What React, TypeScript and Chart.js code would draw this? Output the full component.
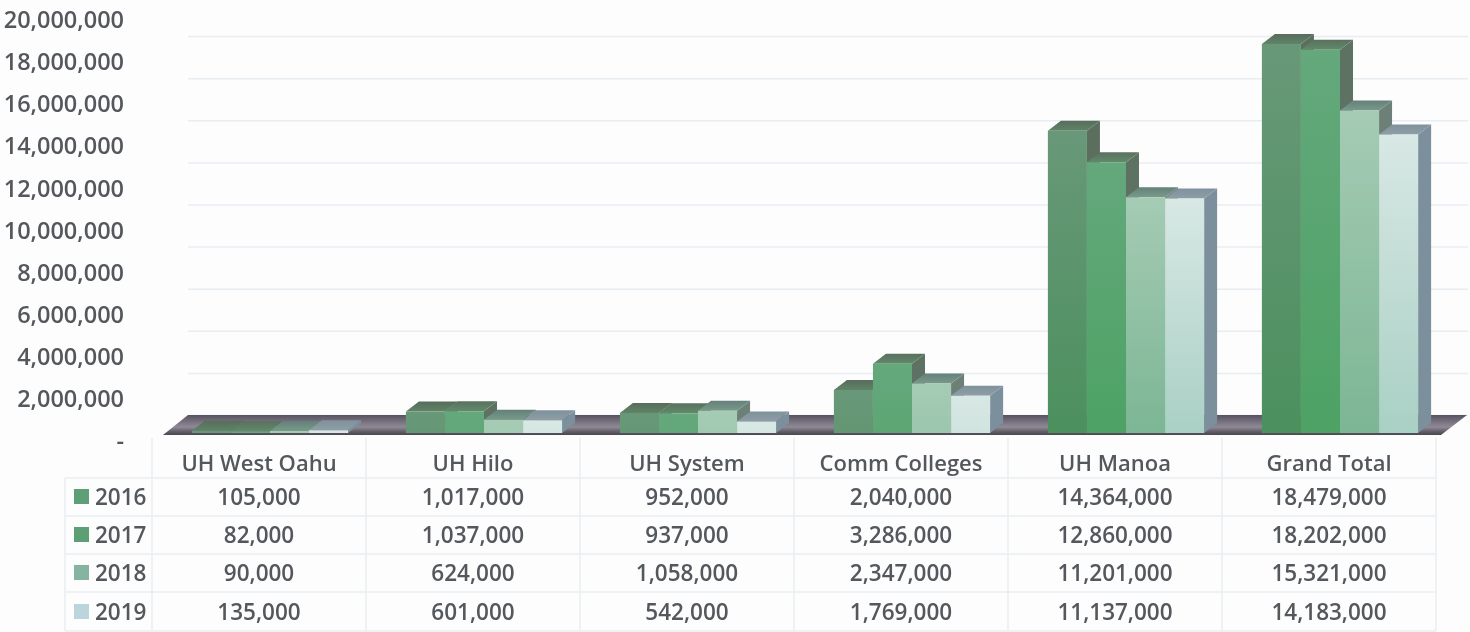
import React, { useEffect, useRef } from "react";
import { Chart, registerables } from "chart.js";

Chart.register(...registerables);

const categories = ["UH West Oahu", "UH Hilo", "UH System", "Comm Colleges", "UH Manoa", "Grand Total"];
const years = ["2016", "2017", "2018", "2019"];
const values2016 = [105000, 1017000, 952000, 2040000, 14364000, 18479000];
const values2017 = [82000, 1037000, 937000, 3286000, 12860000, 18202000];
const values2018 = [90000, 624000, 1058000, 2347000, 11201000, 15321000];
const values2019 = [135000, 601000, 542000, 1769000, 11137000, 14183000];
const seriesValues = [values2016, values2017, values2018, values2019];

const frontTop = [[104, 152, 120], [100, 168, 124], [165, 203, 180], [216, 232, 228]];
const frontBottom = [[76, 144, 94], [77, 162, 100], [124, 182, 148], [169, 208, 196]];
const sideColor = ["#5c6f5f", "#5d7262", "#6c8078", "#7b8f9c"];
const topBack = ["#586c5b", "#5a705e", "#66807a", "#7f919c"];
const topFront = ["#5f8467", "#618a6a", "#779a8a", "#8d9ea6"];
const swatchColor = ["#5f9f78", "#5c9f74", "#85b5a0", "#bcd4dc"];
const rowCenters = [497, 535, 573, 612];
const rowLines = [478, 516, 554, 592, 631];

const FONT = '"Open Sans", sans-serif';
const TEXT = "#54585c";
const DX = 13;
const DY = 10;
const FLOOR_DX = 25;
const FLOOR_DY = 18;
const fmt = (v: number) => v.toLocaleString("en-US");
const rgb = (c: number[]) => `rgb(${c.map(Math.round).join(",")})`;

const scene3d = {
  id: "scene3d",
  beforeDatasetsDraw(chart: any) {
    const { ctx, chartArea, scales } = chart;
    const y0 = scales.y.getPixelForValue(0);
    ctx.save();
    // back wall lines
    ctx.strokeStyle = "#e8edf2";
    ctx.lineWidth = 1.5;
    scales.y.ticks.forEach((t: any) => {
      const y = scales.y.getPixelForValue(t.value) - FLOOR_DY + 0.5;
      ctx.beginPath();
      ctx.moveTo(chartArea.left + FLOOR_DX, y);
      ctx.lineTo(1468, y);
      ctx.stroke();
    });
    // floor
    const g = ctx.createLinearGradient(0, y0 - FLOOR_DY, 0, y0 + 2);
    g.addColorStop(0, "#57525f");
    g.addColorStop(0.6, "#8f8a96");
    g.addColorStop(0.85, "#5e5a64");
    g.addColorStop(1, "#4a4752");
    ctx.fillStyle = g;
    ctx.beginPath();
    ctx.moveTo(chartArea.left, y0 + 2);
    ctx.lineTo(chartArea.left + FLOOR_DX, y0 - FLOOR_DY);
    ctx.lineTo(chartArea.right + 20, y0 - FLOOR_DY);
    ctx.lineTo(chartArea.right - 6, y0 + 2);
    ctx.closePath();
    ctx.fill();
    // side and top faces, left to right; the fronts are painted by the library afterwards
    chart.getSortedVisibleDatasetMetas().forEach((meta: any) => {
      const i = meta.index;
      meta.data.forEach((bar: any) => {
        const l = bar.x - bar.width / 2;
        const r = bar.x + bar.width / 2;
        ctx.fillStyle = sideColor[i];
        ctx.beginPath();
        ctx.moveTo(r, bar.y);
        ctx.lineTo(r + DX, bar.y - DY);
        ctx.lineTo(r + DX, bar.base - DY);
        ctx.lineTo(r, bar.base);
        ctx.closePath();
        ctx.fill();
        const tg = ctx.createLinearGradient(0, bar.y - DY, 0, bar.y);
        tg.addColorStop(0, topBack[i]);
        tg.addColorStop(1, topFront[i]);
        ctx.fillStyle = tg;
        ctx.beginPath();
        ctx.moveTo(l, bar.y);
        ctx.lineTo(l + DX, bar.y - DY);
        ctx.lineTo(r + DX, bar.y - DY);
        ctx.lineTo(r, bar.y);
        ctx.closePath();
        ctx.fill();
      });
    });
    ctx.restore();
  },
};

const dataTable = {
  id: "dataTable",
  afterDraw(chart: any) {
    const { ctx, scales } = chart;
    const colW = scales.x.getPixelForValue(1) - scales.x.getPixelForValue(0);
    const shift = -11;
    const edge = (i: number) => scales.x.getPixelForValue(0) - colW / 2 + shift + i * colW;
    ctx.save();
    ctx.strokeStyle = "#e9eef2";
    ctx.lineWidth = 1.5;
    for (let i = 0; i <= categories.length; i++) {
      ctx.beginPath();
      ctx.moveTo(edge(i), 438);
      ctx.lineTo(edge(i), 631);
      ctx.stroke();
    }
    ctx.beginPath();
    ctx.moveTo(65, 478);
    ctx.lineTo(65, 631);
    ctx.stroke();
    rowLines.forEach((y) => {
      ctx.beginPath();
      ctx.moveTo(65, y);
      ctx.lineTo(edge(categories.length), y);
      ctx.stroke();
    });
    ctx.font = `600 22.5px ${FONT}`;
    ctx.textBaseline = "middle";
    seriesValues.forEach((vals, r) => {
      const yc = rowCenters[r];
      ctx.fillStyle = swatchColor[r];
      ctx.fillRect(74, yc - 8, 15, 15);
      ctx.fillStyle = TEXT;
      ctx.textAlign = "left";
      ctx.fillText(years[r], 95, yc + 2);
      ctx.textAlign = "center";
      vals.forEach((v, c) => {
        ctx.fillText(fmt(v), edge(c) + colW / 2, yc + 2);
      });
    });
    ctx.restore();
  },
};

export default function App() {
  const ref = useRef<HTMLCanvasElement>(null);
  useEffect(() => {
    const chart = new Chart(ref.current!, {
      type: "bar",
      data: {
        labels: categories,
        datasets: seriesValues.map((vals, i) => ({
          label: years[i],
          data: vals,
          borderWidth: 0,
          categoryPercentage: 0.73,
          barPercentage: 1,
          backgroundColor: (c: any) => {
            const ch = c.chart;
            const v = vals[c.dataIndex];
            const yScale = ch.scales?.y;
            if (!yScale || v == null) return rgb(frontTop[i]);
            const top = yScale.getPixelForValue(v);
            const bottom = yScale.getPixelForValue(0);
            if (!Number.isFinite(top) || !Number.isFinite(bottom)) return rgb(frontTop[i]);
            const k = Math.min(1, (bottom - top) / 220);
            const end = frontTop[i].map((t, n) => t + (frontBottom[i][n] - t) * k);
            const g = ch.ctx.createLinearGradient(0, top, 0, bottom);
            g.addColorStop(0, rgb(frontTop[i]));
            g.addColorStop(1, rgb(end));
            return g;
          },
        })),
      },
      options: {
        animation: false,
        responsive: false,
        layout: { padding: { top: 12, right: 23, left: 0, bottom: 0 } },
        plugins: { legend: { display: false }, tooltip: { enabled: false } },
        scales: {
          x: {
            grid: { display: false },
            border: { display: false },
            afterFit: (s: any) => { s.height = 199; },
            ticks: {
              autoSkip: false,
              maxRotation: 0,
              labelOffset: -11,
              padding: 11,
              color: TEXT,
              font: { family: '"Open Sans", sans-serif', size: 22, weight: "600" },
            },
          },
          y: {
            min: 0,
            max: 20000000,
            grid: { display: false, drawTicks: false },
            border: { display: false },
            afterFit: (s: any) => { s.width = 163; s.paddingTop = 0; s.paddingBottom = 0; },
            ticks: {
              stepSize: 2000000,
              labelOffset: 9.5,
              padding: 39,
              color: TEXT,
              font: { family: '"Open Sans", sans-serif', size: 23.5, weight: "600" },
              callback: (v: any) => (v === 0 ? "-" : fmt(Number(v))),
            },
          },
        },
      },
      plugins: [scene3d, dataTable],
    } as any);
    return () => chart.destroy();
  }, []);
  return (
    <div style={{ position: "fixed", left: 0, top: 0, width: 1470, height: 632, background: "#fdfdfe" }}>
      <canvas ref={ref} width={1470} height={632} style={{ display: "block" }} />
    </div>
  );
}
